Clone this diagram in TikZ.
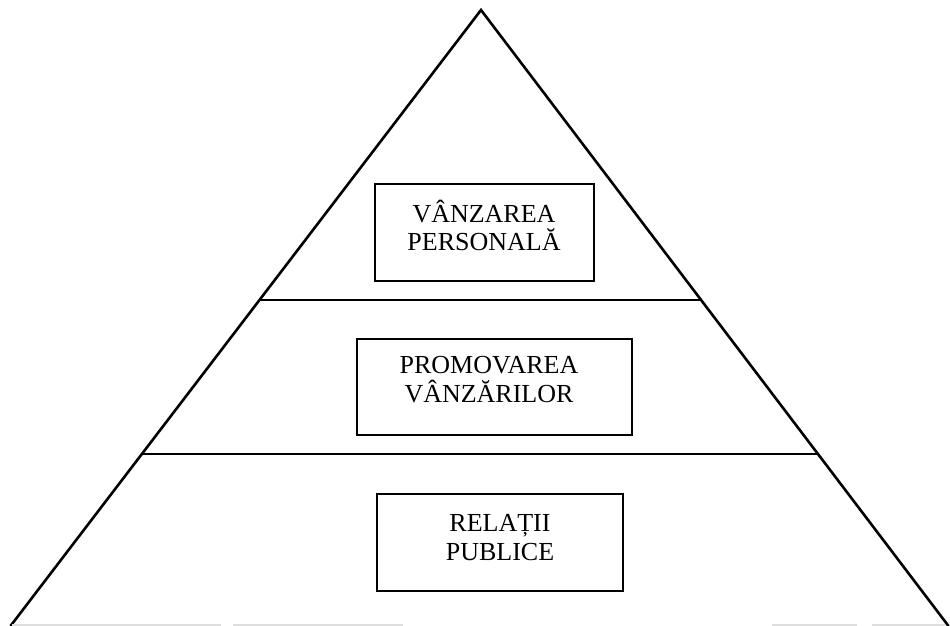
\documentclass[tikz,border=0pt]{standalone}
\usepackage{fontspec}
\setmainfont{Liberation Serif}
\usetikzlibrary{calc}
\begin{document}
\begin{tikzpicture}[x=1pt,y=-1pt,
  side/.style={line width=2.6pt,line join=miter},
  divider/.style={line width=2.2pt},
  tierbox/.style={draw,line width=2.2pt,rectangle,inner sep=0pt},
  tiertext/.style={anchor=base,inner sep=0pt,font=\fontsize{26}{28}\selectfont},
  faintbase/.style={line width=2pt,draw=black!13}]
\useasboundingbox (0,0) rectangle (950,626);
\fill[white] (0,0) rectangle (950,626);

% pyramid outline (open at the bottom)
\coordinate (apex) at (481,10);
\coordinate (bl) at (10.5,626);
\coordinate (br) at (948.5,626);
\draw[side] (bl) -- (apex) -- (br);

% horizontal dividers between the tiers
\coordinate (d1l) at ($(apex)!0.4708!(bl)$);
\coordinate (d1r) at ($(apex)!0.4708!(br)$);
\coordinate (d2l) at ($(apex)!0.7208!(bl)$);
\coordinate (d2r) at ($(apex)!0.7208!(br)$);
\draw[divider] (d1l) -- (d1r);
\draw[divider] (d2l) -- (d2r);

% faint base line
\coordinate (f1a) at (12,624.5);  \coordinate (f1b) at (221,624.5);
\coordinate (f2a) at (233,624.5); \coordinate (f2b) at (403,624.5);
\coordinate (f3a) at (772,624.5); \coordinate (f3b) at (857,624.5);
\coordinate (f4a) at (872,624.5); \coordinate (f4b) at (945,624.5);
\draw[faintbase] (f1a) -- (f1b) (f2a) -- (f2b) (f3a) -- (f3b) (f4a) -- (f4b);

% tier boxes
\node[tierbox,minimum width=219pt,minimum height=97pt] (box1) at (484.5,232.5) {};
\node[tierbox,minimum width=275pt,minimum height=96pt] (box2) at (494.5,387) {};
\node[tierbox,minimum width=246pt,minimum height=97pt] (box3) at (500,542.5) {};

% tier labels
\node[tiertext] (t1a) at (484,222) {VÂNZAREA};
\node[tiertext] (t1b) at (484,250) {PERSONALĂ};
\node[tiertext] (t2a) at (489,373) {PROMOVAREA};
\node[tiertext] (t2b) at (489,402) {VÂNZĂRILOR};
\node[tiertext] (t3a) at (500,531) {RELAȚII};
\node[tiertext] (t3b) at (500,560) {PUBLICE};
\end{tikzpicture}
\end{document}
